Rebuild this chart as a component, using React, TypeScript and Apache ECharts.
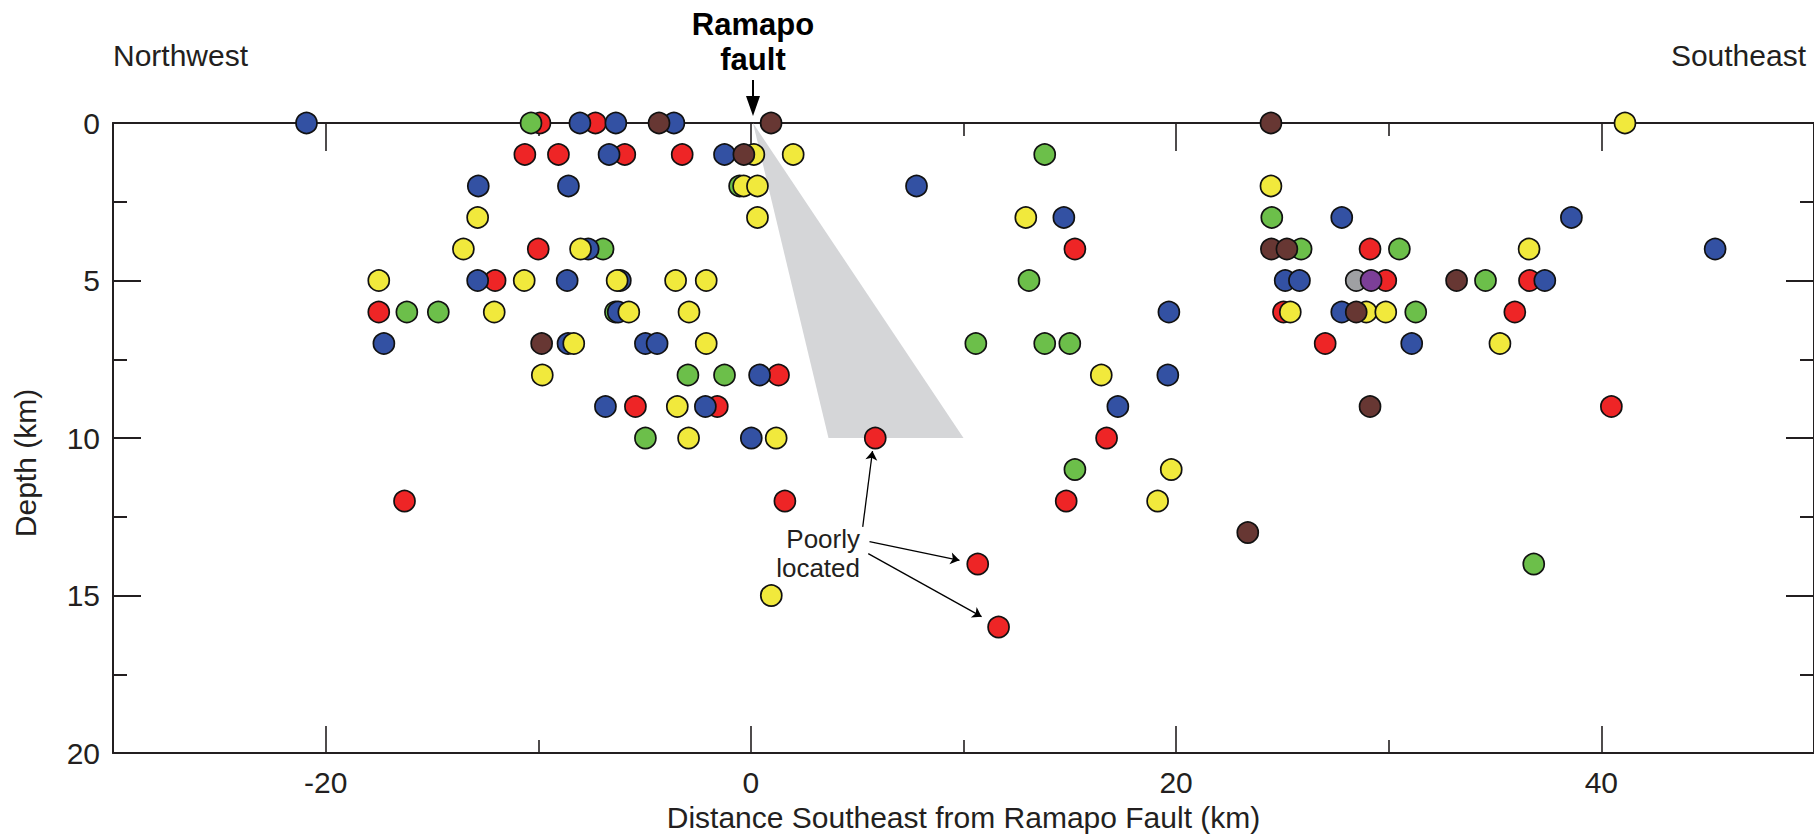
import React, { useEffect, useRef } from "react";
import * as echarts from "echarts";

// Axis ticks (km)
const xMajorTicks = [-20, 0, 20, 40];
const xMinorTicks = [-10, 10, 30];

// Earthquake hypocentres: [distance SE of Ramapo fault (km), depth (km)]
const redQuakes = [
  [-9.92, 0], [-7.31, 0],
  [-10.63, 1], [-9.05, 1], [-5.93, 1], [-3.23, 1],
  [-10.0, 4], [15.24, 4], [29.12, 4],
  [-12.03, 5], [29.86, 5], [36.62, 5],
  [-17.5, 6], [25.05, 6], [35.93, 6],
  [27.01, 7],
  [1.3, 8],
  [-5.43, 9], [-1.58, 9], [40.47, 9],
  [5.85, 10], [16.73, 10],
  [-16.29, 12], [1.6, 12], [14.83, 12],
  [10.67, 14], [11.65, 16],
];

const greenQuakes = [
  [-10.34, 0],
  [13.82, 1],
  [-0.53, 2],
  [24.5, 3],
  [-6.95, 4], [25.88, 4], [30.5, 4],
  [13.08, 5], [34.55, 5],
  [-16.18, 6], [-14.7, 6], [-6.37, 6], [31.27, 6],
  [10.58, 7], [13.82, 7], [15.0, 7],
  [-2.96, 8], [-1.24, 8],
  [-4.96, 10],
  [15.24, 11],
  [36.82, 14],
];

const blueQuakes = [
  [-20.9, 0], [-8.04, 0], [-6.35, 0], [-3.62, 0],
  [-6.67, 1], [-1.24, 1],
  [-12.82, 2], [-8.58, 2], [7.79, 2],
  [14.72, 3], [27.79, 3], [38.59, 3],
  [-7.65, 4], [45.35, 4],
  [-12.85, 5], [-8.64, 5], [-6.14, 5], [25.13, 5], [25.8, 5], [37.34, 5],
  [-6.24, 6], [19.66, 6], [27.79, 6],
  [-17.26, 7], [-8.6, 7], [-4.96, 7], [-4.41, 7], [31.08, 7],
  [0.41, 8], [19.61, 8],
  [-6.84, 9], [-2.14, 9], [17.26, 9],
  [0.02, 10],
];

const yellowQuakes = [
  [41.11, 0],
  [0.14, 1], [1.99, 1],
  [-0.34, 2], [0.31, 2], [24.46, 2],
  [-12.85, 3], [0.31, 3], [12.93, 3],
  [-13.52, 4], [-8.01, 4], [36.6, 4],
  [-17.5, 5], [-10.66, 5], [-6.29, 5], [-3.54, 5], [-2.1, 5],
  [-12.07, 6], [-5.74, 6], [-2.91, 6], [25.37, 6], [28.94, 6], [29.86, 6],
  [-8.33, 7], [-2.1, 7], [35.23, 7],
  [-9.81, 8], [16.48, 8],
  [-3.46, 9],
  [-2.93, 10], [1.19, 10],
  [19.77, 11],
  [19.13, 12],
  [0.96, 15],
];

const brownQuakes = [
  [-4.32, 0], [0.95, 0], [24.46, 0],
  [-0.33, 1],
  [24.48, 4], [25.21, 4],
  [33.19, 5],
  [28.47, 6],
  [-9.84, 7],
  [29.12, 9],
  [23.37, 13],
];

const grayQuakes = [[28.47, 5]];
const purpleQuakes = [[29.17, 5]];

// Grey wedge below the fault trace: [km, depth]
const faultWedge = [[0.1, 0], [3.65, 10], [10, 10]];

// "Poorly located" arrows: [from, to] in [km, depth]
const poorlyArrows = [
  [[5.26, 12.82], [5.72, 10.41]],
  [[5.58, 13.29], [9.81, 13.88]],
  [[5.52, 13.67], [10.85, 15.67]],
];

const FONT = "'Liberation Sans', Arial, Helvetica, sans-serif";
const INK = "#231f20";

const quakeSeries = [
  { name: "red", data: redQuakes, color: "#ee2526" },
  { name: "green", data: greenQuakes, color: "#6cbf4a" },
  { name: "blue", data: blueQuakes, color: "#3351a3" },
  { name: "yellow", data: yellowQuakes, color: "#f1e93c" },
  { name: "brown", data: brownQuakes, color: "#673733" },
  { name: "gray", data: grayQuakes, color: "#9fa0a3" },
  { name: "purple", data: purpleQuakes, color: "#7c3f98" },
];

function xAxisDef(position: "top" | "bottom", ticks: number[], len: number, opts: any = {}) {
  return {
    type: "value",
    position,
    min: -30,
    max: 50,
    interval: 10,
    axisLine: { show: opts.line ?? false, onZero: false, lineStyle: { color: INK, width: 2 } },
    axisTick: {
      show: true,
      inside: true,
      length: len,
      customValues: ticks,
      lineStyle: { color: INK, width: 1.6 },
    },
    axisLabel: opts.labels
      ? {
          show: true,
          customValues: xMajorTicks,
          formatter: (v: number) => (v % 20 === 0 ? String(v) : ""),
          fontSize: 30,
          fontFamily: FONT,
          color: INK,
          margin: 14,
        }
      : { show: false },
    splitLine: { show: false },
    ...(opts.extra || {}),
  };
}

function yAxisDef(position: "left" | "right", labels: boolean) {
  return {
    type: "value",
    position,
    inverse: true,
    min: 0,
    max: 20,
    interval: 5,
    axisLine: { show: true, onZero: false, lineStyle: { color: INK, width: 2 } },
    axisTick: { show: true, inside: true, length: 28, lineStyle: { color: INK, width: 2 } },
    minorTick: { show: true, splitNumber: 2, length: 14, lineStyle: { color: INK, width: 2 } },
    axisLabel: labels
      ? { show: true, fontSize: 30, fontFamily: FONT, color: INK, margin: 13 }
      : { show: false },
    splitLine: { show: false },
    minorSplitLine: { show: false },
  };
}

export default function App() {
  const ref = useRef<HTMLDivElement>(null);

  useEffect(() => {
    if (!ref.current) return;
    const chart = echarts.init(ref.current, null, { renderer: "svg" });

    const option: any = {
      animation: false,
      backgroundColor: "#ffffff",
      grid: { left: 113, top: 123, width: 1705, height: 632, containLabel: false },
      xAxis: [
        xAxisDef("bottom", xMajorTicks, 27, {
          line: true,
          labels: true,
          extra: {
            name: "Distance Southeast from Ramapo Fault (km)",
            nameLocation: "middle",
            nameGap: 48,
            nameTextStyle: { fontSize: 30, fontFamily: FONT, color: INK },
          },
        }),
        xAxisDef("bottom", xMinorTicks, 13),
        xAxisDef("top", xMajorTicks, 28, { line: true }),
        xAxisDef("top", xMinorTicks, 13),
      ],
      yAxis: [yAxisDef("left", true), yAxisDef("right", false)],
      series: [
        {
          type: "custom",
          name: "wedge",
          xAxisIndex: 0,
          yAxisIndex: 0,
          z: 1,
          silent: true,
          data: [faultWedge[0]],
          renderItem: (_params: any, api: any) => ({
            type: "polygon",
            shape: { points: faultWedge.map((p) => api.coord(p)) },
            style: { fill: "#d5d6d8", stroke: "none" },
          }),
          markLine: {
            silent: true,
            symbol: ["none", "arrow"],
            symbolSize: 9,
            label: { show: false },
            lineStyle: { color: "#000", width: 1.3, type: "solid" },
            data: poorlyArrows.map(([a, b]) => [{ coord: a }, { coord: b }]),
          },
        },
        ...quakeSeries.map((s, i) => ({
          type: "scatter",
          name: s.name,
          xAxisIndex: 0,
          yAxisIndex: 0,
          z: 3 + i,
          data: s.data,
          symbol: "circle",
          symbolSize: 21,
          itemStyle: { color: s.color, borderColor: "#111", borderWidth: 1.7, opacity: 1 },
          emphasis: { disabled: true },
          silent: true,
        })),
      ],
      graphic: [
        {
          type: "text",
          left: 113,
          top: 40,
          style: { text: "Northwest", fontSize: 30, fontFamily: FONT, fill: INK },
        },
        {
          type: "text",
          right: 8,
          top: 40,
          style: { text: "Southeast", fontSize: 30, fontFamily: FONT, fill: INK },
        },
        {
          type: "text",
          x: 753,
          y: 24,
          style: {
            text: "Ramapo",
            fontSize: 31,
            fontWeight: "bold",
            fontFamily: FONT,
            fill: "#000",
            align: "center",
            verticalAlign: "middle",
          },
        },
        {
          type: "text",
          x: 753,
          y: 59,
          style: {
            text: "fault",
            fontSize: 31,
            fontWeight: "bold",
            fontFamily: FONT,
            fill: "#000",
            align: "center",
            verticalAlign: "middle",
          },
        },
        {
          type: "line",
          shape: { x1: 753, y1: 80, x2: 753, y2: 100 },
          style: { stroke: "#000", lineWidth: 2 },
        },
        {
          type: "polygon",
          shape: { points: [[746, 96], [760, 96], [753, 116]] },
          style: { fill: "#000" },
        },
        {
          type: "text",
          x: 25,
          y: 463,
          rotation: Math.PI / 2,
          style: {
            text: "Depth (km)",
            fontSize: 30,
            fontFamily: FONT,
            fill: INK,
            align: "center",
            verticalAlign: "middle",
          },
        },
        {
          type: "text",
          x: 860,
          y: 553,
          z: 100,
          style: {
            text: "Poorly\nlocated",
            fontSize: 26,
            lineHeight: 29,
            fontFamily: FONT,
            fill: INK,
            align: "right",
            verticalAlign: "middle",
          },
        },
      ],
    };

    chart.setOption(option);
    return () => chart.dispose();
  }, []);

  return (
    <div
      ref={ref}
      style={{ position: "fixed", left: 0, top: 0, width: 1814, height: 837, background: "#fff" }}
    />
  );
}
